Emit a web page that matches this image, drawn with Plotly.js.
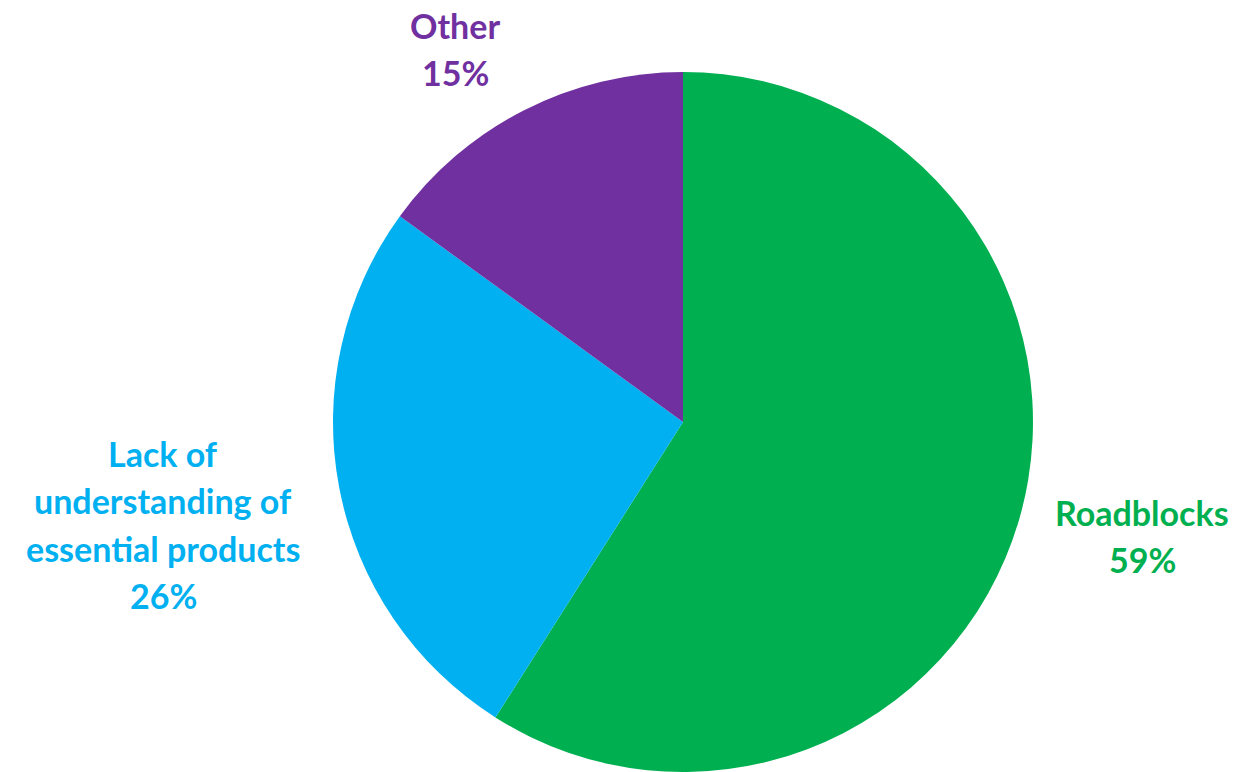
<!DOCTYPE html>
<html><head><meta charset="utf-8">
<script src="https://cdn.plot.ly/plotly-3.0.1.min.js"></script>
<style>html,body{margin:0;padding:0;background:#fff}#chart{width:1240px;height:772px}</style>
</head><body><div id="chart"></div>
<script>
var categories = ["Roadblocks", "Lack of<br>understanding of<br>essential products", "Other"];
var values = [59, 26, 15];
var colors = ["#00B050", "#00B0F0", "#7030A0"];
// label anchor centres (pixels) for each category label block
var labelCenters = [[1142, 512], [163, 453], [455, 25]];

var W = 1240, H = 772, lineGap = 47.5;
var annotations = [];
categories.forEach(function (c, i) {
  var lines = c.split("<br>").concat([values[i] + "%"]);
  lines.forEach(function (t, j) {
    annotations.push({
      xref: "paper", yref: "paper",
      x: labelCenters[i][0] / W, y: 1 - (labelCenters[i][1] + j * lineGap) / H,
      xanchor: "center", yanchor: "middle", showarrow: false,
      text: t,
      font: {family: "Lato, 'Open Sans', sans-serif", size: 34, color: colors[i], weight: 700}
    });
  });
});

var data = [{
  type: "pie",
  labels: categories,
  values: values,
  sort: false,
  direction: "clockwise",
  rotation: 0,
  textinfo: "none",
  hoverinfo: "label+percent",
  marker: {colors: colors, line: {width: 0}},
  domain: {x: [333 / W, 1033 / W], y: [0, 700 / H]},
  showlegend: false
}];

var layout = {
  width: W, height: H,
  margin: {l: 0, r: 0, t: 0, b: 0},
  paper_bgcolor: "#fff",
  showlegend: false,
  annotations: annotations
};
Plotly.newPlot("chart", data, layout, {displayModeBar: false, staticPlot: true});
</script></body></html>
